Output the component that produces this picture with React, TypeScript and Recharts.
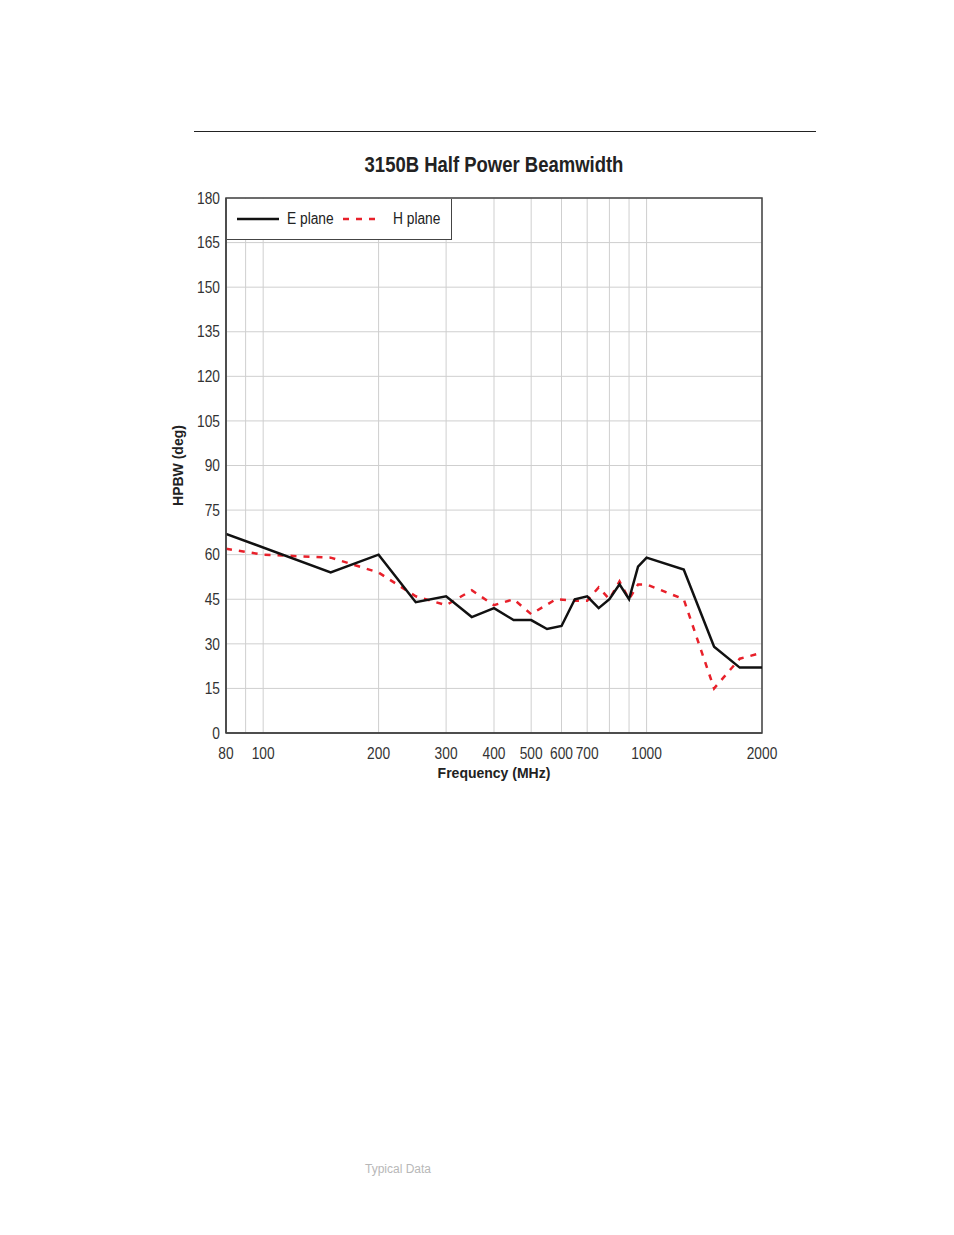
import React from "react";
import {
  LineChart,
  Line,
  XAxis,
  YAxis,
  CartesianGrid,
  ReferenceArea,
} from "recharts";

// frequency (MHz) -> half power beamwidth (deg)
const eFreq = [80, 150, 200, 250, 300, 350, 400, 450, 500, 550, 600, 650, 700, 750, 800, 850, 900, 950, 1000, 1250, 1500, 1750, 2000];
const eHpbw = [67, 54, 60, 44, 46, 39, 42, 38, 38, 35, 36, 45, 46, 42, 45, 50, 45, 56, 59, 55, 29, 22, 22];

const hFreq = [80, 100, 150, 200, 250, 300, 350, 400, 450, 500, 580, 650, 700, 750, 800, 850, 900, 950, 1000, 1250, 1500, 1750, 2000];
const hHpbw = [62, 60, 59, 54, 46, 43, 48, 43, 45, 40, 45, 44.5, 44.5, 49, 45, 51, 45, 50, 50, 45, 15, 25, 27];

const gridFreqs = [80, 90, 100, 200, 300, 400, 500, 600, 700, 800, 900, 1000, 2000];
const labelledFreqs = [80, 100, 200, 300, 400, 500, 600, 700, 1000, 2000];
const yTicks = [0, 15, 30, 45, 60, 75, 90, 105, 120, 135, 150, 165, 180];

const eData = eFreq.map((f, i) => ({ freq: f, value: eHpbw[i] }));
const hData = hFreq.map((f, i) => ({ freq: f, value: hHpbw[i] }));

const FONT = "'Liberation Sans', Arial, sans-serif";
const NARROW = 0.86;

// narrow-looking tick text, squeezed around its anchor point
const XTick = (props: any) => {
  const { x, y, payload } = props;
  if (!labelledFreqs.includes(payload.value)) return null;
  return (
    <text
      x={x}
      y={y}
      dy="0.71em"
      textAnchor="middle"
      fill="#333"
      fontSize={16}
      fontFamily={FONT}
      transform={`translate(${x},0) scale(${NARROW},1) translate(${-x},0)`}
    >
      {payload.value}
    </text>
  );
};

const YTick = (props: any) => {
  const { x, y, payload } = props;
  return (
    <text
      x={x}
      y={y}
      dy="0.355em"
      textAnchor="end"
      fill="#333"
      fontSize={16}
      fontFamily={FONT}
      transform={`translate(${x},0) scale(${NARROW},1) translate(${-x},0)`}
    >
      {payload.value}
    </text>
  );
};

const LegendBox = () => (
  <div
    style={{
      position: "absolute",
      left: 227,
      top: 199,
      width: 225,
      height: 41,
      borderRight: "1.5px solid #444",
      borderBottom: "1.5px solid #444",
      background: "#fff",
      display: "flex",
      alignItems: "center",
      fontFamily: FONT,
      fontSize: 16,
      color: "#222",
      boxSizing: "border-box",
      whiteSpace: "nowrap",
    }}
  >
    <svg width={52} height={10} style={{ marginLeft: 10 }}>
      <line x1={0} y1={5} x2={42} y2={5} stroke="#111" strokeWidth={2.5} />
    </svg>
    <span style={{ marginLeft: -2, display: "inline-block", width: 56, transform: `scaleX(${NARROW})`, transformOrigin: "left" }}>E plane</span>
    <svg width={50} height={10} style={{ marginLeft: 0 }}>
      <line x1={0} y1={5} x2={38} y2={5} stroke="#e8202a" strokeWidth={2.5} strokeDasharray="6 7" />
    </svg>
    <span style={{ display: "inline-block", transform: `scaleX(${NARROW})`, transformOrigin: "left" }}>H plane</span>
  </div>
);

const App = () => {
  return (
    <div style={{ position: "absolute", left: 0, top: 0, width: 954, height: 1235, background: "#fff" }}>
      <div style={{ position: "absolute", left: 194, top: 131, width: 622, height: 1, background: "#222" }} />
      <div
        style={{
          position: "absolute",
          left: 226,
          width: 536,
          top: 152,
          textAlign: "center",
          fontFamily: FONT,
          fontWeight: "bold",
          fontSize: 22,
          color: "#222",
          transform: "scaleX(0.84)",
        }}
      >
        3150B Half Power Beamwidth
      </div>
      <div style={{ position: "absolute", left: 0, top: 0 }}>
        <LineChart width={954} height={800} margin={{ top: 198, right: 192, left: 166, bottom: 17 }}>
          <CartesianGrid stroke="#cfcfcf" strokeWidth={1} />
          <XAxis
            dataKey="freq"
            type="number"
            scale="log"
            domain={[80, 2000]}
            ticks={gridFreqs}
            interval={0}
            allowDataOverflow
            tickLine={false}
            tickSize={0}
            tickMargin={15}
            height={50}
            axisLine={{ stroke: "#444", strokeWidth: 1.5 }}
            tick={<XTick />}
            label={{
              value: "Frequency (MHz)",
              position: "insideBottom",
              offset: 5,
              fill: "#222",
              fontSize: 14,
              fontWeight: "bold",
              fontFamily: FONT,
            }}
          />
          <YAxis
            type="number"
            domain={[0, 180]}
            ticks={yTicks}
            interval={0}
            tickLine={false}
            tickSize={0}
            tickMargin={6}
            width={60}
            axisLine={{ stroke: "#444", strokeWidth: 1.5 }}
            tick={<YTick />}
            label={{
              value: "HPBW (deg)",
              angle: -90,
              position: "insideLeft",
              offset: 12,
              fill: "#222",
              fontSize: 14,
              fontWeight: "bold",
              fontFamily: FONT,
              style: { textAnchor: "middle" },
            }}
          />
          <ReferenceArea x1={80} x2={2000} y1={0} y2={180} fill="none" stroke="#444" strokeWidth={1.5} />
          <Line
            data={hData}
            dataKey="value"
            name="H plane"
            type="linear"
            stroke="#e8202a"
            strokeWidth={2.5}
            strokeDasharray="6 7"
            dot={false}
            isAnimationActive={false}
          />
          <Line
            data={eData}
            dataKey="value"
            name="E plane"
            type="linear"
            stroke="#111"
            strokeWidth={2.5}
            dot={false}
            isAnimationActive={false}
          />
        </LineChart>
      </div>
      <LegendBox />
      <div
        style={{
          position: "absolute",
          left: 365,
          top: 1162,
          fontFamily: FONT,
          fontSize: 12,
          color: "#b8b8b8",
        }}
      >
        Typical Data
      </div>
    </div>
  );
};

export default App;
